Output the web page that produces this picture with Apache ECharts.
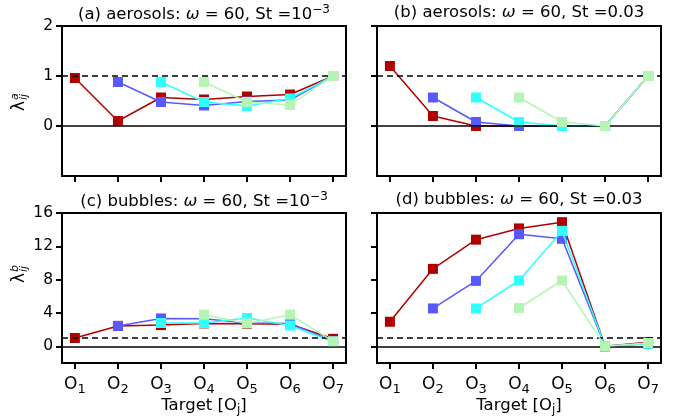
<!DOCTYPE html>
<html>
<head>
<meta charset="utf-8">
<script src="https://cdn.jsdelivr.net/npm/echarts@6/dist/echarts.min.js"></script>
<style>
  html, body { margin: 0; padding: 0; background: #fff; }
  #chart { width: 674px; height: 418px; }
</style>
</head>
<body>
<div id="chart"></div>
<script>
// Target orifices O1..O7 (x positions 1..7)
const targets = ['1', '2', '3', '4', '5', '6', '7'];
const targetPos = [1, 2, 3, 4, 5, 6, 7];

// Tick values
const ticksAerosol = [0, 1, 2];
const ticksBubble = [0, 4, 8, 12, 16];

// (a) aerosols, St = 1e-3 : one series per source orifice
const aeroLowS1 = [0.96, 0.10, 0.57, 0.53, 0.59, 0.63, 1.00];
const aeroLowS2 = [null, 0.88, 0.48, 0.41, 0.49, 0.52, 1.00];
const aeroLowS3 = [null, null, 0.88, 0.48, 0.40, 0.55, 1.00];
const aeroLowS4 = [null, null, null, 0.88, 0.48, 0.42, 1.00];

// (b) aerosols, St = 0.03
const aeroHighS1 = [1.20, 0.20, 0.00, 0.00, 0.00, 0.00, 1.00];
const aeroHighS2 = [null, 0.57, 0.08, 0.00, 0.00, 0.00, 1.00];
const aeroHighS3 = [null, null, 0.57, 0.08, 0.00, 0.00, 1.00];
const aeroHighS4 = [null, null, null, 0.57, 0.08, 0.00, 1.00];

// (c) bubbles, St = 1e-3
const bubLowS1 = [1.00, 2.45, 2.55, 2.75, 2.70, 2.65, 0.90];
const bubLowS2 = [null, 2.45, 3.35, 3.30, 2.80, 2.75, 0.60];
const bubLowS3 = [null, null, 2.80, 2.80, 3.40, 2.50, 0.55];
const bubLowS4 = [null, null, null, 3.80, 2.75, 3.80, 0.60];

// (d) bubbles, St = 0.03
const bubHighS1 = [2.95, 9.30, 12.80, 14.15, 14.90, 0.00, 0.50];
const bubHighS2 = [null, 4.55, 7.85, 13.45, 12.90, 0.00, 0.30];
const bubHighS3 = [null, null, 4.55, 7.90, 13.85, 0.00, 0.30];
const bubHighS4 = [null, null, null, 4.60, 7.90, 0.00, 0.40];

const seriesColors = ['#b00000', '#5858ff', '#2effff', '#b4f5b4'];
const FONT = 'DejaVu Sans';

const grids = [
  { left: 62, top: 26, width: 284, height: 150 },
  { left: 377, top: 26, width: 284, height: 150 },
  { left: 62, top: 213, width: 284, height: 150 },
  { left: 377, top: 213, width: 284, height: 150 }
];

const panelData = [
  [aeroLowS1, aeroLowS2, aeroLowS3, aeroLowS4],
  [aeroHighS1, aeroHighS2, aeroHighS3, aeroHighS4],
  [bubLowS1, bubLowS2, bubLowS3, bubLowS4],
  [bubHighS1, bubHighS2, bubHighS3, bubHighS4]
];

function toPoints(values) {
  const pts = [];
  values.forEach((v, i) => { if (v !== null) pts.push([targetPos[i], v]); });
  return pts;
}

const tickStyle = { show: true, length: 6, lineStyle: { color: '#000', width: 2 } };

const xAxes = grids.map((g, i) => ({
  gridIndex: i,
  type: 'value',
  position: 'bottom',
  min: 0.7,
  max: 7.3,
  axisLine: { show: false, onZero: false },
  splitLine: { show: false },
  axisTick: Object.assign({ customValues: targetPos }, tickStyle),
  axisLabel: {
    show: i >= 2,
    customValues: targetPos,
    margin: 10,
    color: '#000',
    fontFamily: FONT,
    fontSize: 17,
    formatter: v => '{o|O}{s|' + targets[v - 1] + '}',
    rich: {
      o: { fontFamily: FONT, fontSize: 17, color: '#000' },
      s: { fontFamily: FONT, fontSize: 13, color: '#000', padding: [10, 0, 0, 0] }
    }
  },
  name: i >= 2 ? 'Target [O{s|j}]' : '',
  nameLocation: 'middle',
  nameGap: 28,
  nameTextStyle: {
    fontFamily: FONT, fontSize: 16.5, color: '#000',
    rich: {
      s: { fontFamily: FONT, fontSize: 12, color: '#000', padding: [8, 0, 0, 0] }
    }
  }
}));

const yAxes = grids.map((g, i) => {
  const aero = i < 2;
  const ticks = aero ? ticksAerosol : ticksBubble;
  return {
    gridIndex: i,
    type: 'value',
    position: 'left',
    min: aero ? -1 : -2,
    max: aero ? 2 : 16,
    axisLine: { show: false, onZero: false },
    splitLine: { show: false },
    axisTick: Object.assign({ customValues: ticks }, tickStyle),
    axisLabel: {
      show: i % 2 === 0,
      customValues: ticks,
      margin: 9,
      color: '#000',
      fontFamily: FONT,
      fontSize: 15.5
    }
  };
});

const series = [];
grids.forEach((g, i) => {
  // reference lines: y = 1 (dashed) and y = 0 (solid)
  series.push({
    type: 'line',
    xAxisIndex: i,
    yAxisIndex: i,
    data: [],
    z: 1,
    silent: true,
    markLine: {
      silent: true,
      symbol: 'none',
      label: { show: false },
      animation: false,
      data: [
        { yAxis: 1, lineStyle: { color: '#000', width: 1.5, type: [6, 4] } },
        { yAxis: 0, lineStyle: { color: '#000', width: 1.5, type: 'solid' } }
      ]
    }
  });
  panelData[i].forEach((vals, k) => {
    series.push({
      type: 'line',
      xAxisIndex: i,
      yAxisIndex: i,
      z: 2 + k,
      data: toPoints(vals),
      symbol: 'rect',
      symbolSize: 10,
      showAllSymbol: true,
      lineStyle: { color: seriesColors[k], width: 1.5 },
      itemStyle: { color: seriesColors[k] },
      emphasis: { disabled: true }
    });
  });
});

const titleRich = {
  it: { fontFamily: FONT, fontSize: 16.5, fontStyle: 'italic', color: '#000' },
  sup: { fontFamily: FONT, fontSize: 12, color: '#000', padding: [0, 0, 10, 0] }
};
const titleTexts = [
  '(a) aerosols: {it|ω} = 60, St =10{sup|−3}',
  '(b) aerosols: {it|ω} = 60, St =0.03',
  '(c) bubbles: {it|ω} = 60, St =10{sup|−3}',
  '(d) bubbles: {it|ω} = 60, St =0.03'
];
const titles = grids.map((g, i) => ({
  text: titleTexts[i],
  left: g.left + g.width / 2,
  top: g.top - 22,
  textAlign: 'center',
  padding: 0,
  textStyle: { fontFamily: FONT, fontSize: 16.5, fontWeight: 'normal', color: '#000', rich: titleRich }
}));

// rotated y-axis labels λ_ij^a and λ_ij^b
function yLabel(x, y, sup) {
  return {
    type: 'group',
    x: x,
    y: y,
    rotation: Math.PI / 2,
    children: [
      { type: 'text', x: -10, y: 0, style: { text: 'λ', fontFamily: FONT, fontSize: 17, fill: '#000', verticalAlign: 'middle', align: 'left' } },
      { type: 'text', x: 1, y: 4, style: { text: 'ij', fontFamily: FONT, fontSize: 11, fontStyle: 'italic', fill: '#000', verticalAlign: 'middle', align: 'left' } },
      { type: 'text', x: 1, y: -5, style: { text: sup, fontFamily: FONT, fontSize: 11, fontStyle: 'italic', fill: '#000', verticalAlign: 'middle', align: 'left' } }
    ]
  };
}

const chart = echarts.init(document.getElementById('chart'), null, { renderer: 'canvas' });
chart.setOption({
  animation: false,
  backgroundColor: '#fff',
  title: titles,
  grid: grids.map(g => Object.assign({ show: true, borderColor: '#000', borderWidth: 2, backgroundColor: 'transparent' }, g)),
  xAxis: xAxes,
  yAxis: yAxes,
  series: series,
  graphic: [yLabel(20, 101, 'a'), yLabel(20, 273, 'b')]
});
</script>
</body>
</html>
